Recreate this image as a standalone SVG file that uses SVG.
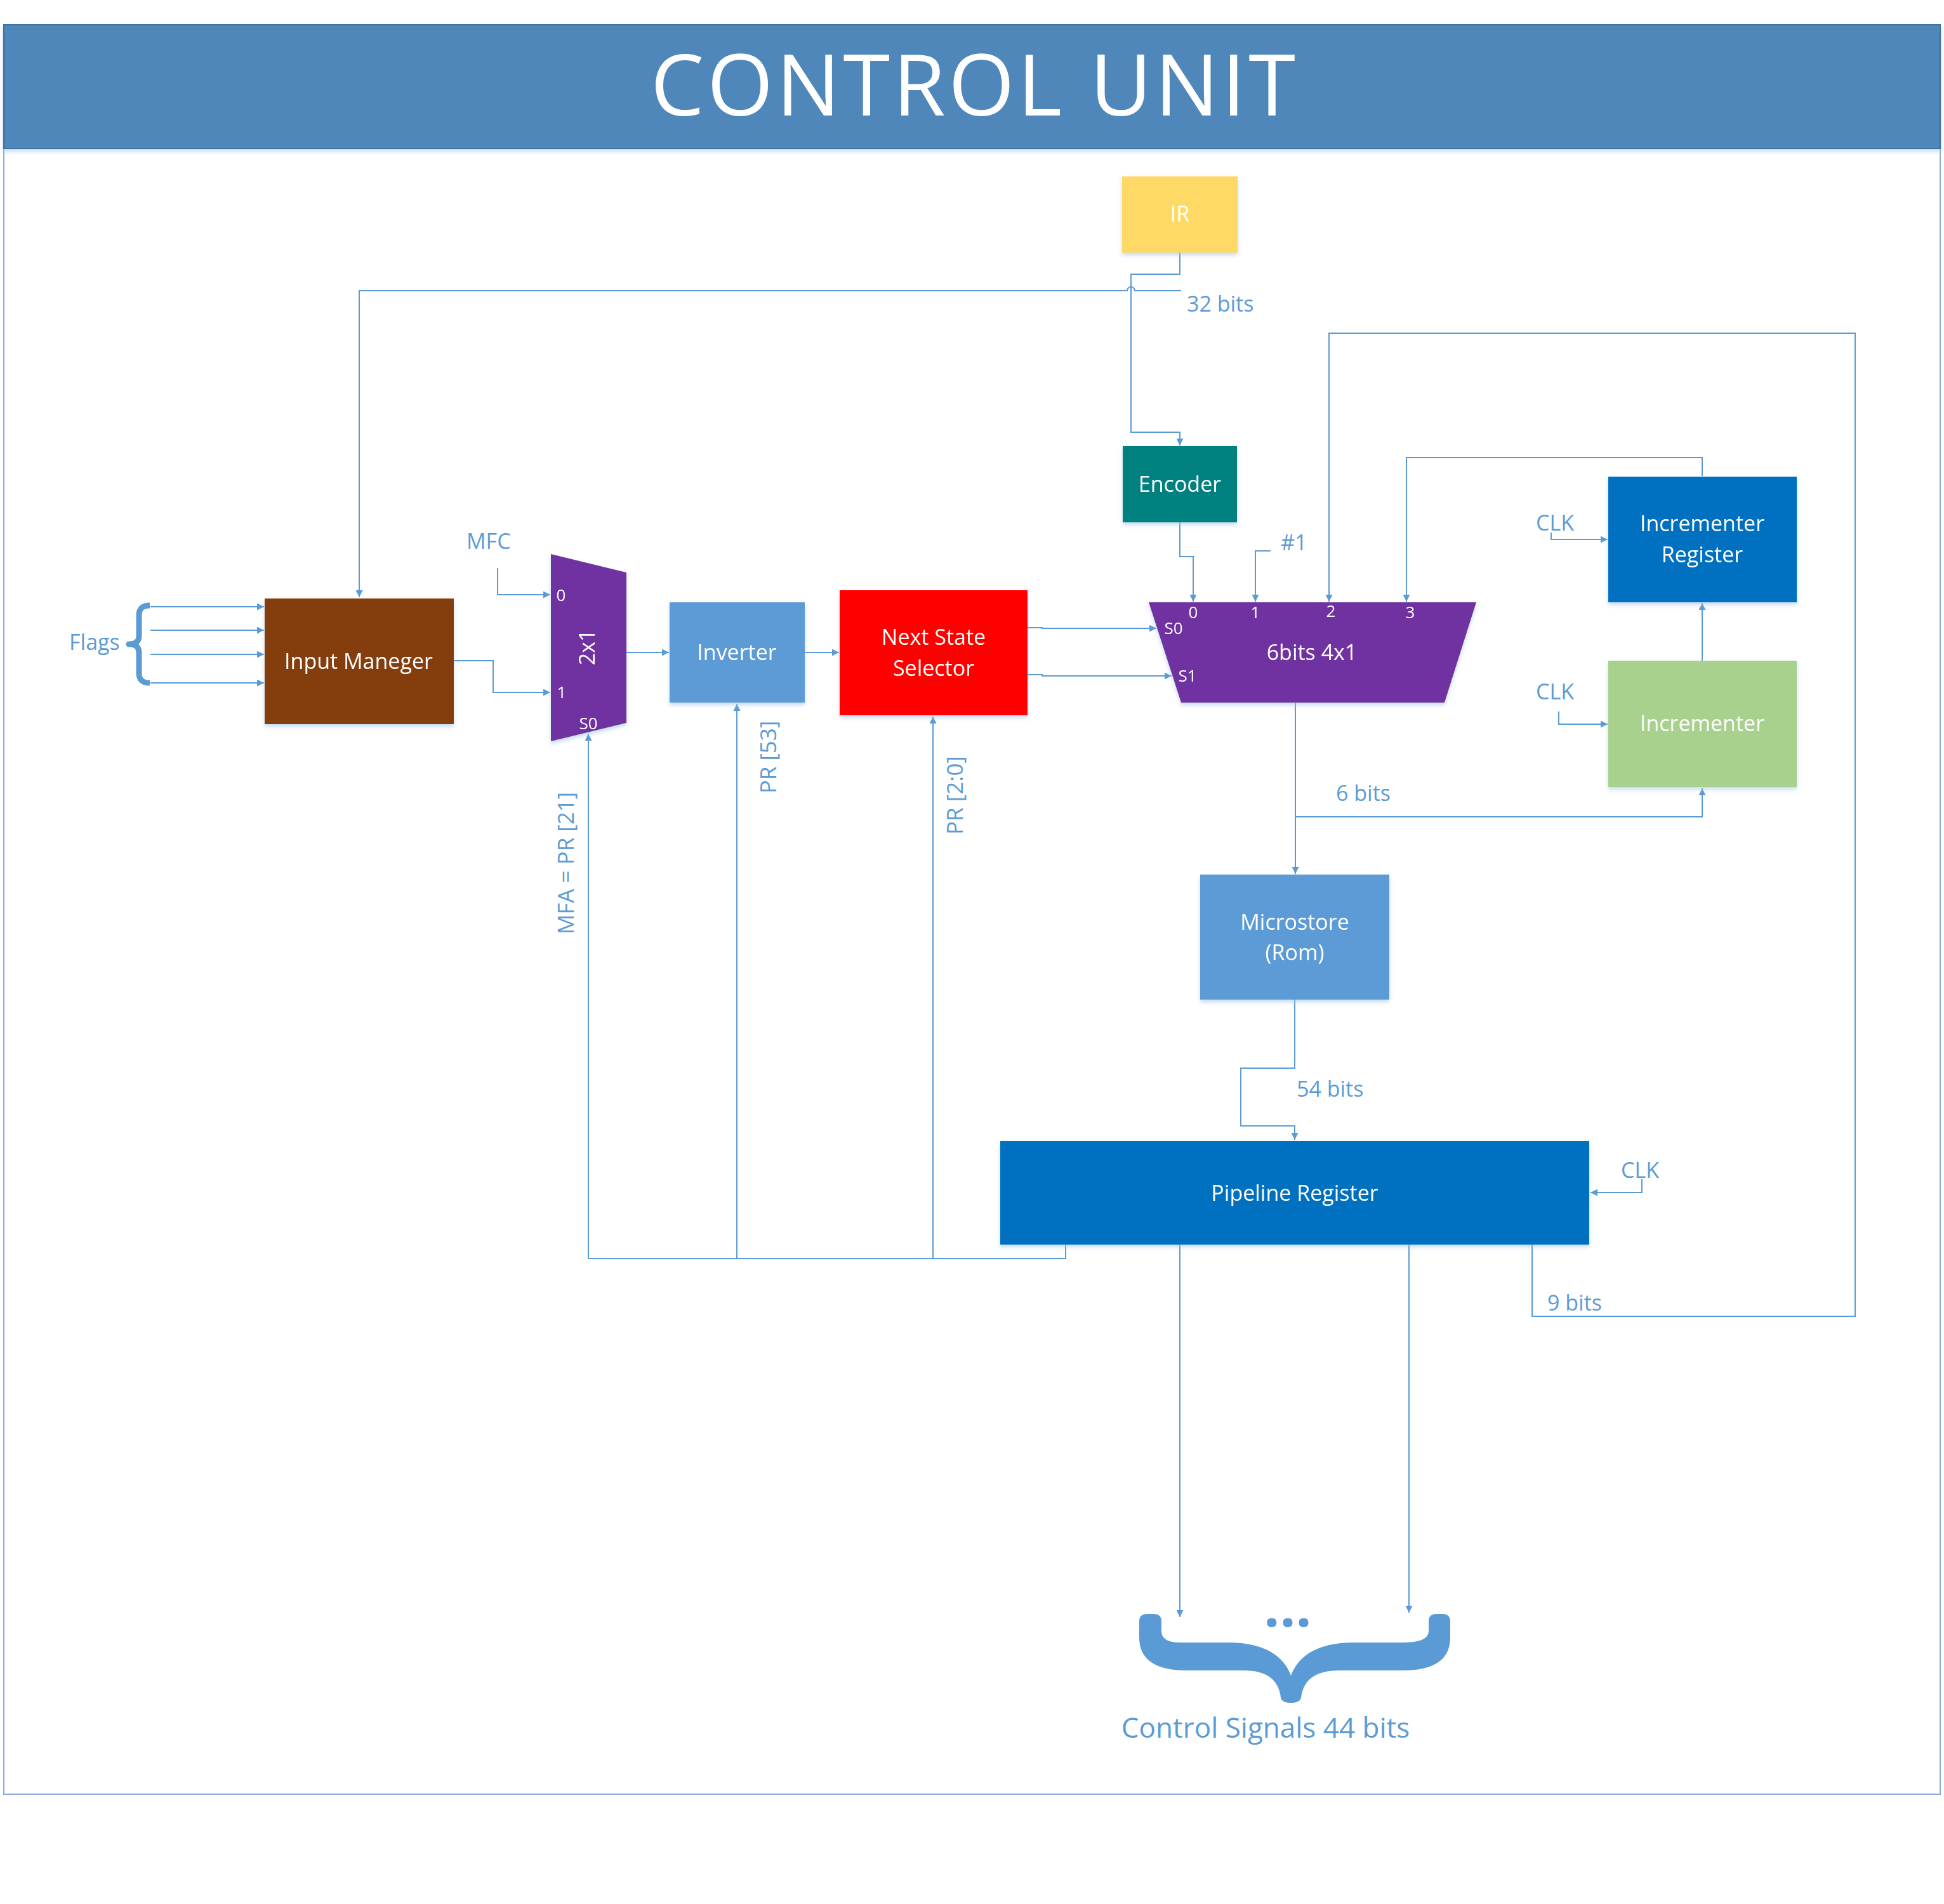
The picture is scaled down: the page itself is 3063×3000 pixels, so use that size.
<svg xmlns="http://www.w3.org/2000/svg" width="3063" height="3000" viewBox="0 0 3063 3000">
<style>
text{font-family:"Open Sans","Noto Sans","DejaVu Sans",sans-serif}
.nt{fill:#ffffff;font-size:34px;text-anchor:middle}
.pin{fill:#ffffff;font-size:26px;text-anchor:middle}
.lb{fill:#5B9BD5;font-size:34px}
.rot{fill:#5B9BD5;font-size:35px;text-anchor:middle}
.wire{fill:none;stroke:#5B9BD5;stroke-width:2}
.arr{marker-end:url(#ah)}
.box{filter:url(#sh)}
</style>
<defs>
<marker id="ah" markerUnits="userSpaceOnUse" markerWidth="12" markerHeight="11" refX="11" refY="5.5" orient="auto">
<path d="M0,0 L11,5.5 L0,11 Z" fill="#5B9BD5"/>
</marker>
<filter id="sh" x="-10%" y="-10%" width="120%" height="130%">
<feDropShadow dx="0" dy="4" stdDeviation="3" flood-color="#9DC3E6" flood-opacity="0.6"/>
</filter>
</defs>
<rect width="3063" height="3000" fill="#ffffff"/>
<g id="frame">
<rect x="6" y="39" width="3051" height="2788" fill="none" stroke="#8EAADB" stroke-width="2"/>
<rect x="6" y="39" width="3051" height="195" fill="#5087BB" stroke="#41719C" stroke-width="2" class="box"/>
<text x="1533" y="182" font-size="134" fill="#ffffff" text-anchor="middle" textLength="1016" lengthAdjust="spacing">CONTROL UNIT</text>
</g>
<g id="connectors">
<path class="wire arr" d="M1861,458 H1788 A6,6 0 0 0 1776,458 H566 V941"/>
<path class="wire arr" d="M1859,398 V432 H1782 V681 H1859 V702"/>
<path class="wire arr" d="M1859,823 V877 H1880 V948"/>
<path class="wire arr" d="M2002,868 H1978 V948"/>
<path class="wire arr" d="M2414,1961 V2074 H2923 V525 H2094 V948"/>
<path class="wire arr" d="M2682,750 V721 H2216 V948"/>
<path class="wire arr" d="M2444,839 V850 H2533"/>
<path class="wire arr" d="M2456,1121 V1141 H2533"/>
<path class="wire arr" d="M2682,1041 V950"/>
<path class="wire arr" d="M2041,1107 V1377"/>
<path class="wire arr" d="M2041,1287 H2682 V1242"/>
<path class="wire arr" d="M2040,1575 V1683 H1955 V1774 H2040 V1796"/>
<path class="wire arr" d="M2587,1858 V1879 H2506"/>
<path class="wire arr" d="M1679,1961 V1983 H927 V1156"/>
<path class="wire arr" d="M1161,1983 V1109"/>
<path class="wire arr" d="M1470,1983 V1129"/>
<path class="wire arr" d="M1859,1961 V2548"/>
<path class="wire arr" d="M2220,1961 V2541"/>
<path class="wire arr" d="M237,956 H416"/>
<path class="wire arr" d="M237,993 H416"/>
<path class="wire arr" d="M237,1031 H416"/>
<path class="wire arr" d="M237,1076 H416"/>
<path class="wire arr" d="M784,895 V937 H867"/>
<path class="wire arr" d="M715,1041 H777 V1091 H867"/>
<path class="wire arr" d="M987,1028 H1054"/>
<path class="wire arr" d="M1268,1028 H1322"/>
<path class="wire arr" d="M1619,989 H1642 V990 H1822"/>
<path class="wire arr" d="M1619,1063 H1642 V1065 H1846"/>
</g>
<g id="labels">
<text class="lb" x="109" y="1024">Flags</text>
<path d="M236,954 Q219,954 219,969 V1002 Q219,1015 203,1015 Q219,1015 219,1028 V1061 Q219,1076 236,1076" fill="none" stroke="#5B9BD5" stroke-width="9" stroke-linejoin="round"/>
<text class="lb" x="735" y="865">MFC</text>
<text class="lb" x="1870" y="491">32 bits</text>
<text class="lb" x="2018" y="867">#1</text>
<text class="lb" x="2420" y="836">CLK</text>
<text class="lb" x="2420" y="1102">CLK</text>
<text class="lb" x="2105" y="1262">6 bits</text>
<text class="lb" x="2043" y="1728">54 bits</text>
<text class="lb" x="2554" y="1856">CLK</text>
<text class="lb" x="2438" y="2065">9 bits</text>
<text class="rot" transform="translate(904,1360) rotate(-90)">MFA = PR [21]</text>
<text class="rot" transform="translate(1223,1193) rotate(-90)">PR [53]</text>
<text class="rot" transform="translate(1517,1253) rotate(-90)">PR [2:0]</text>
</g>
<g id="ir" class="box"><rect x="1768" y="278" width="182" height="120" fill="#FFD966"/><text class="nt" x="1859" y="349">IR</text></g>
<g id="encoder" class="box"><rect x="1769" y="703" width="180" height="120" fill="#00807F"/><text class="nt" x="1859" y="775">Encoder</text></g>
<g id="input-manager" class="box"><rect x="417" y="943" width="298" height="198" fill="#843C0C"/><text class="nt" x="565" y="1054">Input Maneger</text></g>
<g id="mux2x1" class="box"><path d="M868,873 L987,902 L987,1139 L868,1168 Z" fill="#7030A0"/>
<text class="pin" x="884" y="947">0</text><text class="pin" x="885" y="1100">1</text><text class="pin" x="927" y="1149">S0</text>
<text class="nt" font-size="32" transform="translate(937,1020) rotate(-90)">2x1</text></g>
<g id="inverter" class="box"><rect x="1055" y="949" width="213" height="158" fill="#5B9BD5"/><text class="nt" x="1161" y="1040">Inverter</text></g>
<g id="next-state-selector" class="box"><rect x="1323" y="930" width="296" height="197" fill="#FF0000"/><text class="nt" x="1471" y="1016">Next State</text><text class="nt" x="1471" y="1065">Selector</text></g>
<g id="mux4x1" class="box"><path d="M1810,949 L2326,949 L2276,1107 L1861,1107 Z" fill="#7030A0"/>
<text class="pin" x="1880" y="974">0</text><text class="pin" x="1978" y="974">1</text><text class="pin" x="2097" y="972">2</text><text class="pin" x="2222" y="974">3</text>
<text class="pin" x="1849" y="999">S0</text><text class="pin" x="1871" y="1074">S1</text>
<text class="nt" x="2067" y="1040">6bits 4x1</text></g>
<g id="incrementer-register" class="box"><rect x="2534" y="751" width="297" height="198" fill="#0070C0"/><text class="nt" x="2682" y="837">Incrementer</text><text class="nt" x="2682" y="886">Register</text></g>
<g id="incrementer" class="box"><rect x="2534" y="1041" width="297" height="199" fill="#A9D18E"/><text class="nt" x="2682" y="1152">Incrementer</text></g>
<g id="microstore" class="box"><rect x="1891" y="1378" width="298" height="197" fill="#5B9BD5"/><text class="nt" x="2040" y="1465">Microstore</text><text class="nt" x="2040" y="1513">(Rom)</text></g>
<g id="pipeline-register" class="box"><rect x="1576" y="1798" width="928" height="163" fill="#0070C0"/><text class="nt" x="2040" y="1892">Pipeline Register</text></g>
<g id="control-signals">
<path d="M1795,2555 Q1795,2543 1807,2543 H1818 Q1830,2543 1830,2555 V2570 Q1830,2588 1860,2588 H1940 Q2015,2590 2034,2640 Q2053,2590 2128,2588 H2210 Q2251,2588 2251,2570 V2555 Q2251,2543 2263,2543 H2273 Q2285,2543 2285,2555 V2580 Q2285,2632 2210,2632 H2110 Q2055,2632 2050,2675 Q2048,2683 2034,2683 Q2020,2683 2018,2675 Q2013,2632 1960,2632 H1870 Q1795,2632 1795,2580 Z" fill="#5B9BD5"/>
<text x="2029" y="2563" font-size="88" font-weight="bold" fill="#5B9BD5" text-anchor="middle">...</text>
<text x="1994" y="2738" font-size="44" fill="#5B9BD5" text-anchor="middle">Control Signals 44 bits</text>
</g>
</svg>
